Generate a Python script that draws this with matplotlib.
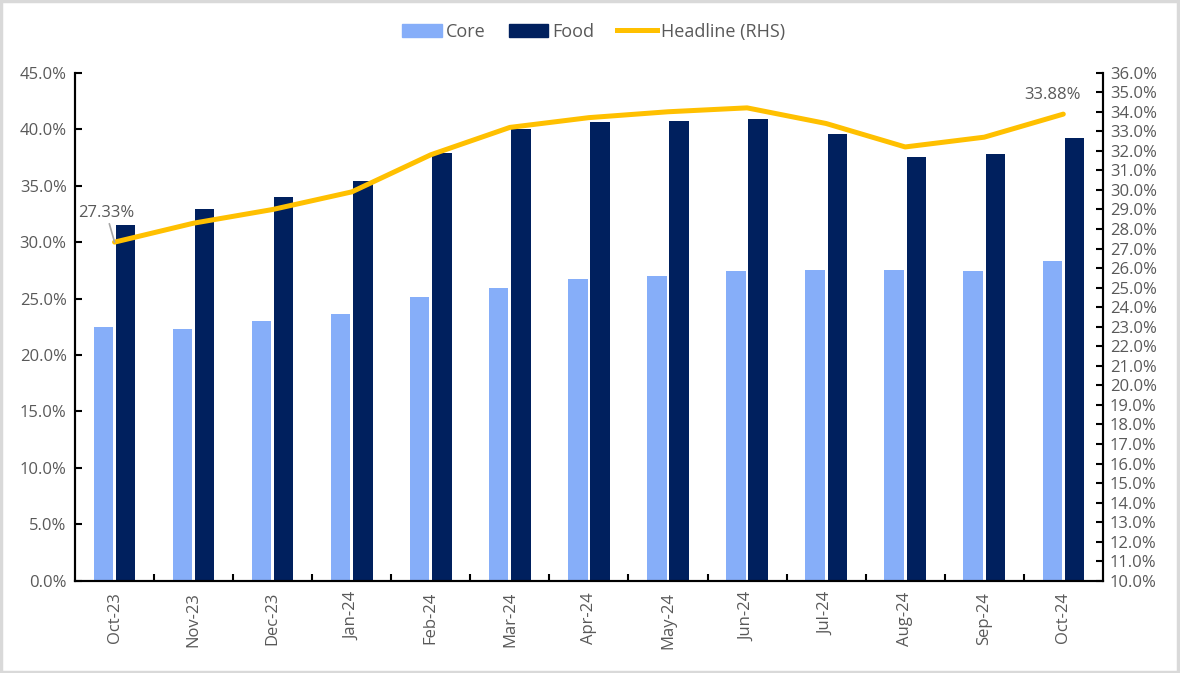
import numpy as np
import matplotlib.pyplot as plt
from matplotlib.patches import Patch, Rectangle
from matplotlib.lines import Line2D
from matplotlib.ticker import PercentFormatter, MultipleLocator

plt.rcParams['font.family'] = ['Open Sans', 'DejaVu Sans']

# data
months = ['Oct-23', 'Nov-23', 'Dec-23', 'Jan-24', 'Feb-24', 'Mar-24', 'Apr-24',
          'May-24', 'Jun-24', 'Jul-24', 'Aug-24', 'Sep-24', 'Oct-24']
core = [22.5, 22.3, 23.0, 23.6, 25.1, 25.9, 26.7, 27.0, 27.4, 27.5, 27.5, 27.4, 28.3]
food = [31.5, 32.9, 34.0, 35.4, 37.9, 40.0, 40.6, 40.7, 40.9, 39.6, 37.5, 37.8, 39.2]
headline = [27.33, 28.3, 29.0, 29.9, 31.8, 33.2, 33.7, 34.0, 34.2, 33.4, 32.2, 32.7, 33.88]

core_color = '#86AEF9'
food_color = '#00205E'
head_color = '#FFC000'
text_color = '#595959'
fs = 12

fig = plt.figure(figsize=(11.8, 6.73), dpi=100)
ax = fig.add_axes([0.0636, 0.137, 0.871, 0.755])
ax2 = ax.twinx()

x = np.arange(len(months))
w = 0.245
ax.bar(x - 0.14, core, width=w, color=core_color, zorder=2)
ax.bar(x + 0.14, food, width=w, color=food_color, zorder=2)
ax2.plot(x, headline, color=head_color, linewidth=3.6, solid_capstyle='round', zorder=3)

# left axis
ax.set_xlim(-0.5, len(months) - 0.5)
ax.set_ylim(0, 45)
ax.yaxis.set_major_locator(MultipleLocator(5))
ax.yaxis.set_major_formatter(PercentFormatter(decimals=1))
# right axis
ax2.set_ylim(10, 36)
ax2.yaxis.set_major_locator(MultipleLocator(1))
ax2.yaxis.set_major_formatter(PercentFormatter(decimals=1))

ax.set_xticks(x)
ax.set_xticklabels(months, rotation=90)
ax.set_xticks(np.arange(0.5, len(months) - 1, 1), minor=True)
ax.tick_params(axis='x', which='major', length=0, pad=8, labelsize=fs, labelcolor=text_color)
ax.tick_params(axis='x', which='minor', length=5, width=1.5, direction='in')
ax.tick_params(axis='y', length=5, width=1.5, direction='in', labelsize=fs, labelcolor=text_color, pad=6)
ax2.tick_params(axis='y', length=5, width=1.5, direction='in', labelsize=fs, labelcolor=text_color, pad=5)

for a in (ax, ax2):
    a.spines['top'].set_visible(False)
    for s in ('left', 'right', 'bottom'):
        a.spines[s].set_linewidth(1.5)
        a.spines[s].set_color('black')

# data labels for first and last headline points
ax2.annotate(f'{headline[0]:.2f}%', xy=(x[0], headline[0]), xytext=(-6, 21),
             textcoords='offset points', ha='center', va='center', fontsize=fs,
             color=text_color, arrowprops=dict(arrowstyle='-', color='#A6A6A6', lw=1.2,
                                                shrinkA=0, shrinkB=0))
ax2.annotate(f'{headline[-1]:.2f}%', xy=(x[-1], headline[-1]), xytext=(-8, 14),
             textcoords='offset points', ha='center', va='center', fontsize=fs,
             color=text_color)

handles = [Patch(color=core_color, label='Core'),
           Patch(color=food_color, label='Food'),
           Line2D([0], [0], color=head_color, linewidth=3.6, label='Headline (RHS)')]
leg = fig.legend(handles=handles, loc='center', bbox_to_anchor=(0.503, 0.953), ncol=3,
                 frameon=False, fontsize=13, handlelength=2.2, handleheight=0.75,
                 handletextpad=0.2, columnspacing=1.3)
for t in leg.get_texts():
    t.set_color(text_color)

# light grey border around the chart area
fig.patches.append(Rectangle((0.001, 0.002), 0.997, 0.996, transform=fig.transFigure,
                             fill=False, edgecolor='#D9D9D9', linewidth=2.5))

fig.savefig('out.png', dpi=100)
